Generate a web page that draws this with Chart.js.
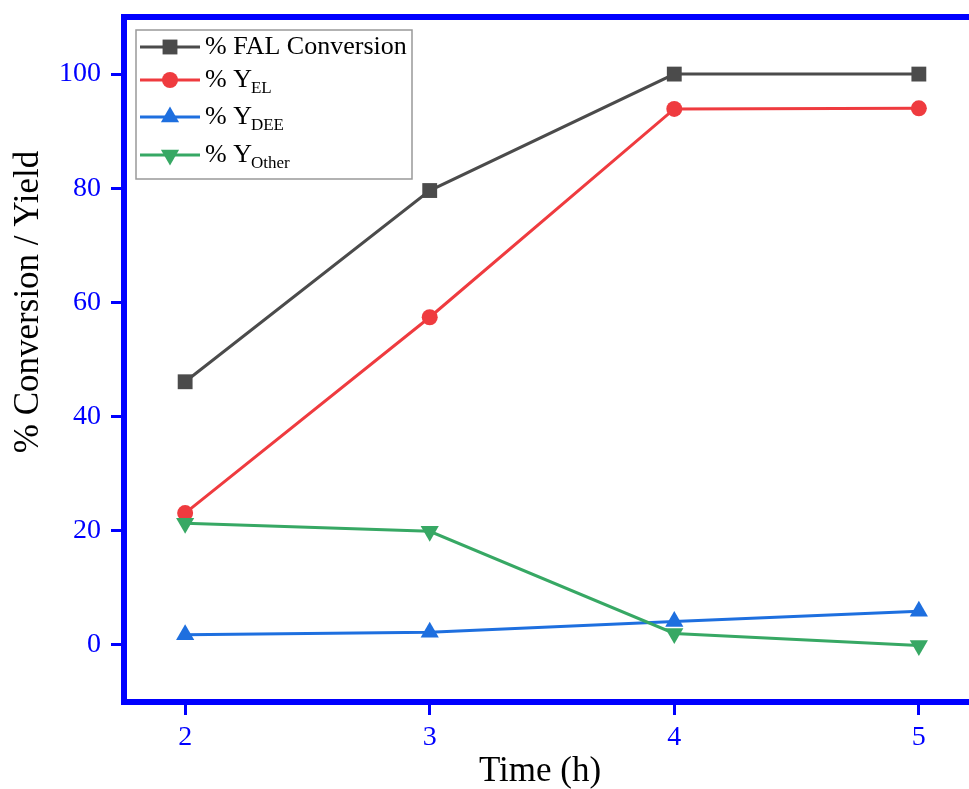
<!DOCTYPE html>
<html>
<head>
<meta charset="utf-8">
<script src="https://cdn.jsdelivr.net/npm/chart.js@4.4.0/dist/chart.umd.min.js"></script>
<style>
  html, body { margin: 0; padding: 0; background: #fff; overflow: hidden; }
  #wrap { width: 1000px; height: 789px; }
</style>
</head>
<body>
<div id="wrap"><canvas id="lineChart" width="1000" height="789"></canvas></div>
<script>
// time (h) and series
const times = [2, 3, 4, 5];
const falConversion = [46.1, 79.6, 100, 100];
const yieldEL = [23.1, 57.4, 93.9, 94.0];
const yieldDEE = [1.8, 2.2, 4.1, 5.9];
const yieldOther = [21.3, 19.9, 2.0, -0.1];

const xTicks = [2, 3, 4, 5];
const yTicks = [0, 20, 40, 60, 80, 100];

const legendNames = ["% FAL Conversion", "% Y", "% Y", "% Y"];
const legendSubs = ["", "EL", "DEE", "Other"];

const AXIS = "#0000ff";
const SERIF = "'Liberation Serif', 'Times New Roman', serif";

const series = [
  { data: falConversion, color: "#4b4b4b", style: "rect", radius: 10.5, rot: 0 },
  { data: yieldEL, color: "#ef3b3f", style: "circle", radius: 8, rot: 0 },
  { data: yieldDEE, color: "#1e6fdf", style: "triangle", radius: 10.5, rot: 0 },
  { data: yieldOther, color: "#37a864", style: "triangle", radius: 10.5, rot: 180 },
];

function marker(ctx, style, rot, r, x, y, color) {
  ctx.save();
  ctx.fillStyle = color;
  ctx.beginPath();
  if (style === "rect") {
    const s = Math.SQRT1_2 * r;
    ctx.rect(x - s, y - s, 2 * s, 2 * s);
  } else if (style === "circle") {
    ctx.arc(x, y, r, 0, Math.PI * 2);
  } else {
    let a = (rot * Math.PI) / 180;
    ctx.moveTo(x + Math.sin(a) * r, y - Math.cos(a) * r);
    for (let i = 0; i < 2; i++) {
      a += (2 * Math.PI) / 3;
      ctx.lineTo(x + Math.sin(a) * r, y - Math.cos(a) * r);
    }
    ctx.closePath();
  }
  ctx.fill();
  ctx.restore();
}

// frame, axis titles and the boxed legend (subscripts need manual text)
const extras = {
  id: "extras",
  afterDraw(chart) {
    const ctx = chart.ctx;
    const a = chart.chartArea;
    ctx.save();
    ctx.strokeStyle = AXIS;
    ctx.lineWidth = 6;
    ctx.beginPath();
    ctx.moveTo(a.left - 3, a.top);
    ctx.lineTo(a.right, a.top);
    ctx.lineTo(a.right, a.bottom);
    ctx.stroke();

    ctx.fillStyle = "#000";
    ctx.font = "35px " + SERIF;
    ctx.textAlign = "center";
    ctx.textBaseline = "middle";
    ctx.fillText("Time (h)", 540, 772);
    ctx.save();
    ctx.translate(29, 302);
    ctx.rotate(-Math.PI / 2);
    ctx.fillText("% Conversion / Yield", 0, 0);
    ctx.restore();

    ctx.strokeStyle = "#999";
    ctx.lineWidth = 1.5;
    ctx.strokeRect(136, 30, 276, 149);
    const rows = [47, 80, 117, 155];
    series.forEach((s, i) => {
      const y = rows[i];
      ctx.strokeStyle = s.color;
      ctx.lineWidth = 3;
      ctx.beginPath();
      ctx.moveTo(140, y);
      ctx.lineTo(200, y);
      ctx.stroke();
      marker(ctx, s.style, s.rot, s.radius, 170, y, s.color);
      ctx.fillStyle = "#000";
      ctx.textAlign = "left";
      ctx.font = "26px " + SERIF;
      ctx.fillText(legendNames[i], 205, y);
      if (legendSubs[i]) {
        const w = ctx.measureText(legendNames[i]).width;
        ctx.font = "17px " + SERIF;
        ctx.fillText(legendSubs[i], 205 + w - 1, y + 9);
      }
    });
    ctx.restore();
  },
};

new Chart(document.getElementById("lineChart"), {
  type: "line",
  data: {
    datasets: series.map((s, i) => ({
      label: legendNames[i] + legendSubs[i],
      data: times.map((t, j) => ({ x: t, y: s.data[j] })),
      borderColor: s.color,
      backgroundColor: s.color,
      borderWidth: 3,
      pointStyle: s.style,
      pointRotation: s.rot,
      pointRadius: s.radius,
      pointBorderWidth: 0,
      order: 4 - i,
      tension: 0,
    })),
  },
  options: {
    responsive: false,
    animation: false,
    layout: { padding: { top: 17, right: 20, left: 0, bottom: 0 } },
    plugins: { legend: { display: false }, tooltip: { enabled: false } },
    scales: {
      x: {
        type: "linear",
        min: 1.75,
        max: 5.25,
        afterBuildTicks: (s) => { s.ticks = xTicks.map((v) => ({ value: v })); },
        afterFit: (s) => { s.height = 87; s.paddingLeft = 0; s.paddingRight = 0; },
        grid: { drawOnChartArea: false, tickLength: 13, tickColor: AXIS, tickWidth: 3 },
        border: { color: AXIS, width: 6 },
        ticks: { color: AXIS, padding: 6, font: { family: SERIF, size: 28 } },
      },
      y: {
        min: -10,
        max: 110,
        afterBuildTicks: (s) => { s.ticks = yTicks.map((v) => ({ value: v })); },
        afterFit: (s) => { s.width = 124; s.paddingTop = 0; s.paddingBottom = 0; },
        grid: { drawOnChartArea: false, tickLength: 13, tickColor: AXIS, tickWidth: 3 },
        border: { color: AXIS, width: 6 },
        ticks: { color: AXIS, padding: 10, font: { family: SERIF, size: 28 } },
      },
    },
  },
  plugins: [extras],
});
</script>
</body>
</html>
